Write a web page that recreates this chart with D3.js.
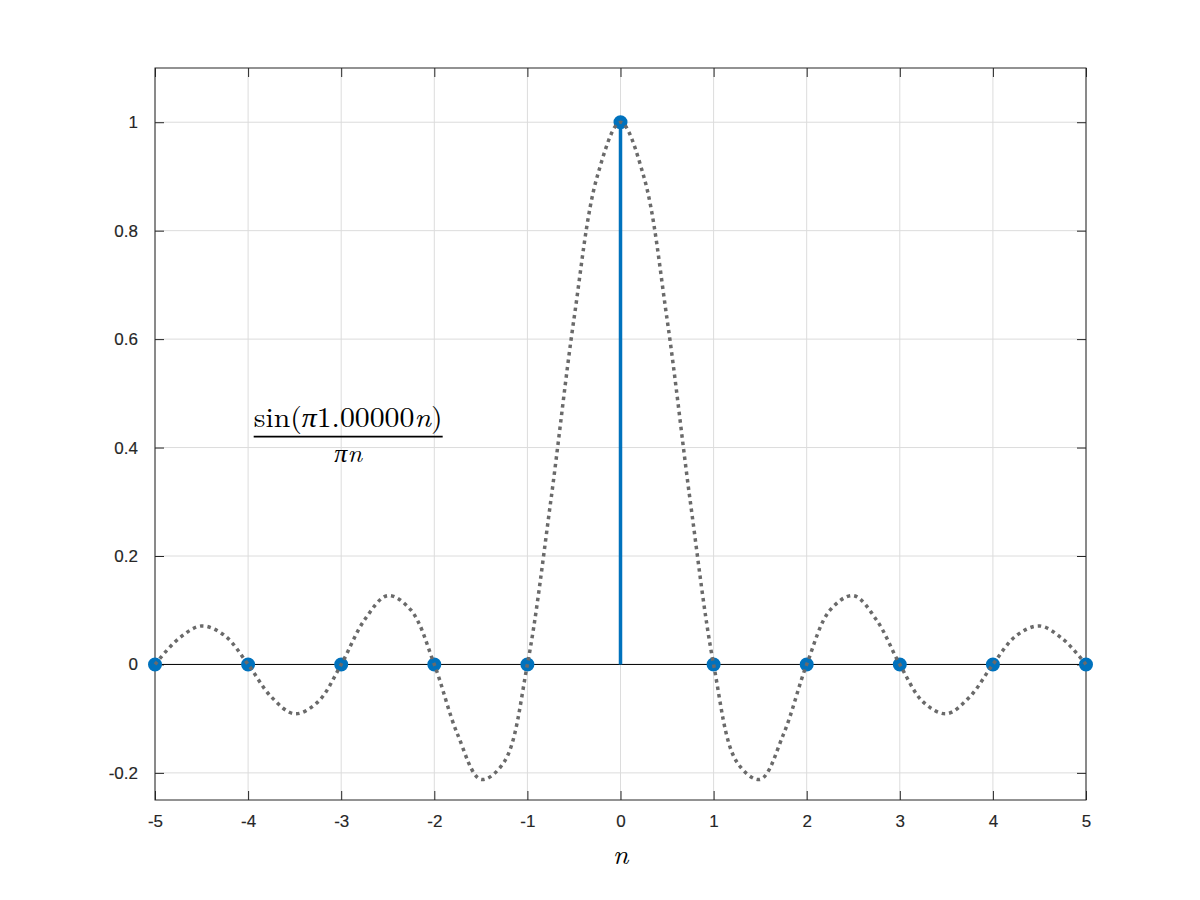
<!DOCTYPE html>
<html>
<head>
<meta charset="utf-8">
<script src="https://cdn.jsdelivr.net/npm/d3@7"></script>
<style>
  body { margin: 0; background: #fff; }
  svg { display: block; }
</style>
</head>
<body>
<div id="chart"></div>
<script>
// stem samples (integer n) and their values
const stemN = [-5, -4, -3, -2, -1, 0, 1, 2, 3, 4, 5];
const stemVals = [0, 0, 0, 0, 0, 1, 0, 0, 0, 0, 0];

// dotted continuous curve, every 0.25
const curveX = [
  -5, -4.75, -4.5, -4.25, -4, -3.75, -3.5, -3.25, -3, -2.75, -2.5, -2.25, -2,
  -1.75, -1.5, -1.25, -1, -0.75, -0.5, -0.25, 0, 0.25, 0.5, 0.75, 1,
  1.25, 1.5, 1.75, 2, 2.25, 2.5, 2.75, 3, 3.25, 3.5, 3.75, 4, 4.25, 4.5, 4.75, 5
];
const curveY = [
  0, 0.047, 0.071, 0.053, 0, -0.060, -0.091, -0.069, 0, 0.082, 0.127, 0.100, 0,
  -0.129, -0.212, -0.180, 0, 0.300, 0.637, 0.900, 1, 0.900, 0.637, 0.300, 0,
  -0.180, -0.212, -0.129, 0, 0.100, 0.127, 0.082, 0, -0.069, -0.091, -0.060, 0, 0.053, 0.071, 0.047, 0
];

const xTicks = [-5, -4, -3, -2, -1, 0, 1, 2, 3, 4, 5];
const yTicks = [-0.2, 0, 0.2, 0.4, 0.6, 0.8, 1];

const COLORS = {
  STEM: '#0072BD',
  CURVE: '#6a6a6a',
  AXIS: '#262626',
  GRID: '#dcdcdc'
};

const width = 1200, height = 900;
const margin = { left: 155, right: 114, top: 68, bottom: 100 };
const plotW = width - margin.left - margin.right;
const plotH = height - margin.top - margin.bottom;

const x = d3.scaleLinear().domain([-5, 5]).range([0, plotW]);
const y = d3.scaleLinear().domain([-0.25, 1.1]).range([plotH, 0]);

const svg = d3.select('#chart').append('svg')
  .attr('width', width)
  .attr('height', height)
  .attr('viewBox', [0, 0, width, height]);

const g = svg.append('g')
  .attr('transform', `translate(${margin.left},${margin.top})`);

// grid
g.append('g')
  .selectAll('line')
  .data(xTicks)
  .join('line')
    .attr('x1', d => x(d)).attr('x2', d => x(d))
    .attr('y1', 0).attr('y2', plotH)
    .attr('stroke', COLORS.GRID).attr('stroke-width', 1);
g.append('g')
  .selectAll('line')
  .data(yTicks)
  .join('line')
    .attr('y1', d => y(d)).attr('y2', d => y(d))
    .attr('x1', 0).attr('x2', plotW)
    .attr('stroke', COLORS.GRID).attr('stroke-width', 1);

// axes, ticks inward on all four sides; plain hyphen for negatives like MATLAB
const fmt = d => String(+d.toFixed(1));
const styleAxis = sel => {
  sel.attr('font-size', 17)
    .attr('font-family', 'Liberation Sans, Arial, Helvetica, sans-serif');
  sel.select('.domain').remove();
  sel.selectAll('line').attr('stroke', COLORS.AXIS);
  sel.selectAll('text')
    .attr('fill', COLORS.AXIS)
    .attr('stroke', COLORS.AXIS)
    .attr('stroke-width', 0.15);
};

g.append('g')
  .attr('transform', `translate(0,${plotH})`)
  .call(d3.axisBottom(x).tickValues(xTicks).tickFormat(fmt).tickSizeInner(-9).tickPadding(15))
  .call(styleAxis);
g.append('g')
  .call(d3.axisTop(x).tickValues(xTicks).tickFormat('').tickSizeInner(-9))
  .call(styleAxis);
g.append('g')
  .call(d3.axisLeft(y).tickValues(yTicks).tickFormat(fmt).tickSizeInner(-9).tickPadding(17))
  .call(styleAxis);
g.append('g')
  .attr('transform', `translate(${plotW},0)`)
  .call(d3.axisRight(y).tickValues(yTicks).tickFormat('').tickSizeInner(-9))
  .call(styleAxis);

// box
g.append('rect')
  .attr('width', plotW).attr('height', plotH)
  .attr('fill', 'none')
  .attr('stroke', COLORS.AXIS)
  .attr('stroke-width', 1);

// baseline
g.append('line')
  .attr('x1', x(-5)).attr('x2', x(5))
  .attr('y1', y(0)).attr('y2', y(0))
  .attr('stroke', '#000').attr('stroke-width', 1);

// stems
const stems = stemN.map((n, i) => ({ n, v: stemVals[i] }));
g.append('g')
  .selectAll('line')
  .data(stems)
  .join('line')
    .attr('x1', d => x(d.n)).attr('x2', d => x(d.n))
    .attr('y1', y(0)).attr('y2', d => y(d.v))
    .attr('stroke', COLORS.STEM).attr('stroke-width', 3.5);
g.append('g')
  .selectAll('circle')
  .data(stems)
  .join('circle')
    .attr('cx', d => x(d.n)).attr('cy', d => y(d.v))
    .attr('r', 5.5)
    .attr('fill', COLORS.STEM)
    .attr('stroke', COLORS.STEM).attr('stroke-width', 3);

// dotted curve
const pts = curveX.map((v, i) => [v, curveY[i]]);
g.append('path')
  .datum(pts)
  .attr('fill', 'none')
  .attr('stroke', COLORS.CURVE)
  .attr('stroke-width', 3.5)
  .attr('stroke-dasharray', '3.5,4')
  .attr('d', d3.line().x(d => x(d[0])).y(d => y(d[1])).curve(d3.curveCatmullRom.alpha(0.5)));

// formula text
const serif = 'Latin Modern Roman, CMU Serif, Liberation Serif, DejaVu Serif, serif';
const fx = x(-3.94), fw = 189;
const frac = g.append('g').attr('font-family', serif).attr('fill', '#000');
const num = frac.append('text')
  .attr('x', fx + fw / 2).attr('y', y(0.4) - 21)
  .attr('font-size', 28)
  .attr('text-anchor', 'middle')
  .attr('textLength', fw).attr('lengthAdjust', 'spacingAndGlyphs');
num.append('tspan').text('sin(');
num.append('tspan').attr('font-style', 'italic').text('π');
num.append('tspan').text('1.00000');
num.append('tspan').attr('font-style', 'italic').text('n');
num.append('tspan').text(')');
frac.append('line')
  .attr('x1', fx).attr('x2', fx + fw)
  .attr('y1', y(0.4) - 11).attr('y2', y(0.4) - 11)
  .attr('stroke', '#000').attr('stroke-width', 1.8);
frac.append('text')
  .attr('x', fx + fw / 2).attr('y', y(0.4) + 14)
  .attr('font-size', 26)
  .attr('text-anchor', 'middle')
  .attr('font-style', 'italic')
  .text('πn');

// x label
svg.append('text')
  .attr('x', margin.left + x(0))
  .attr('y', 864)
  .attr('text-anchor', 'middle')
  .attr('font-family', serif)
  .attr('font-style', 'italic')
  .attr('font-size', 28)
  .attr('fill', '#000')
  .text('n');
</script>
</body>
</html>
